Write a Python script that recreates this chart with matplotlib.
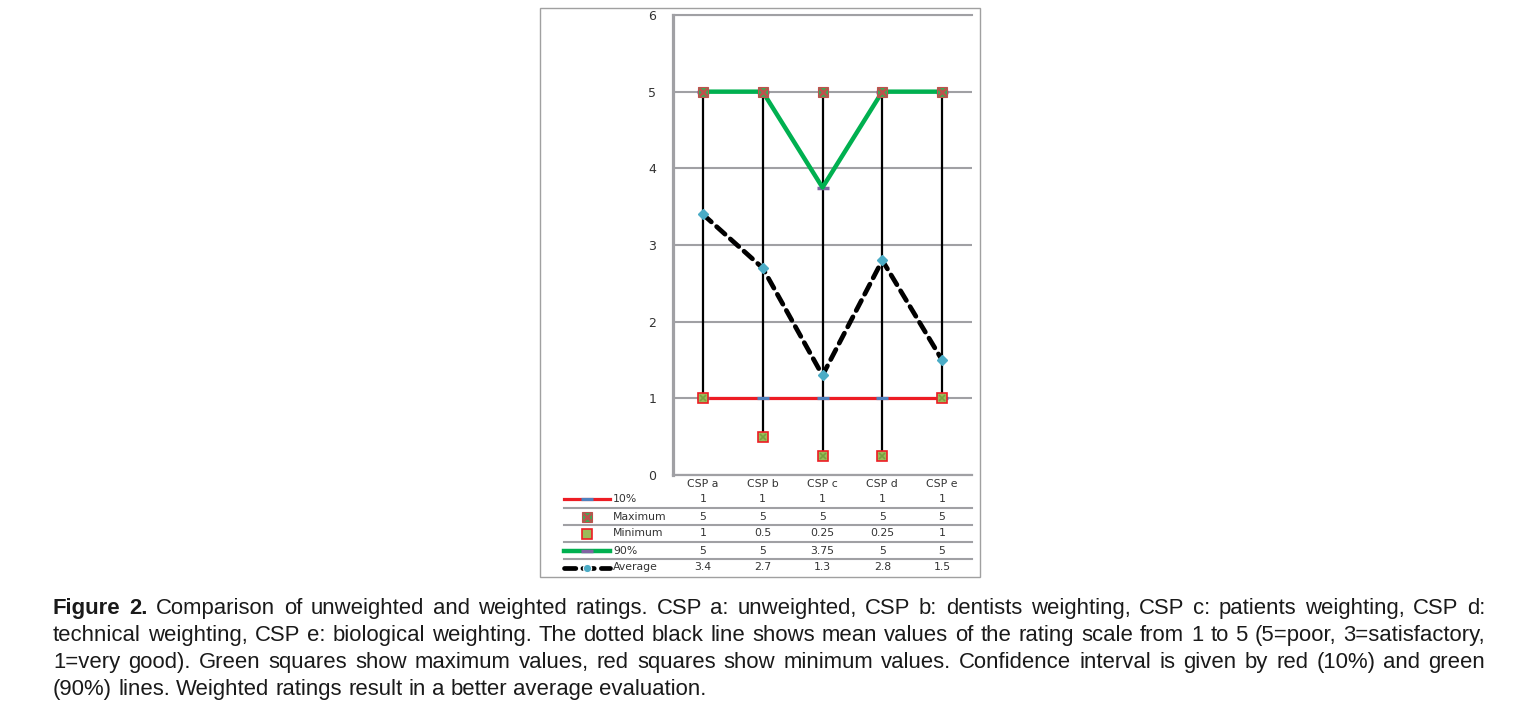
import matplotlib
matplotlib.use("Agg")
import matplotlib.pyplot as plt
from matplotlib.lines import Line2D
from matplotlib.patches import Rectangle
from matplotlib.transforms import blended_transform_factory

# ---------------- data ----------------
categories = ["CSP a", "CSP b", "CSP c", "CSP d", "CSP e"]
p10 = [1, 1, 1, 1, 1]
maximum = [5, 5, 5, 5, 5]
minimum = [1, 0.5, 0.25, 0.25, 1]
p90 = [5, 5, 3.75, 5, 5]
average = [3.4, 2.7, 1.3, 2.8, 1.5]
table_labels = ["10%", "Maximum", "Minimum", "90%", "Average"]
table_text = [["1", "1", "1", "1", "1"],
              ["5", "5", "5", "5", "5"],
              ["1", "0.5", "0.25", "0.25", "1"],
              ["5", "5", "3.75", "5", "5"],
              ["3.4", "2.7", "1.3", "2.8", "1.5"]]
yticks = [0, 1, 2, 3, 4, 5, 6]

caption_lines = [
    "Figure 2. Comparison of unweighted and weighted ratings. CSP a: unweighted, CSP b: dentists weighting, CSP c: patients weighting, CSP d:",
    "technical weighting, CSP e: biological weighting. The dotted black line shows mean values of the rating scale from 1 to 5 (5=poor, 3=satisfactory,",
    "1=very good). Green squares show maximum values, red squares show minimum values. Confidence interval is given by red (10%) and green",
    "(90%) lines. Weighted ratings result in a better average evaluation.",
]

# ---------------- colours ----------------
RED = "#ED1C24"
BLUE = "#4F81BD"
GREEN = "#00B050"
PURPLE = "#8064A2"
CYAN = "#4BACC6"
GRID = "#A0A0A4"
MAXG = "#3DAA55"
MAXR = "#C0504D"
MINFACE = "#9BBB59"
TXT = "#333333"

W, H = 1532, 717
fig = plt.figure(figsize=(W / 100, H / 100), dpi=100)
fig.patch.set_facecolor("white")


def fx(px):
    return px / W


def fy(py):
    return 1 - py / H


# outer chart box
fig.add_artist(Rectangle((fx(540), fy(577)), fx(980) - fx(540), fy(8) - fy(577),
                         transform=fig.transFigure, fill=False, edgecolor="#A0A0A0", lw=1.0))

ax = fig.add_axes([fx(673), fy(475), fx(972) - fx(673), fy(15) - fy(475)])
x = list(range(len(categories)))
ax.set_xlim(-0.5, len(categories) - 0.5)
ax.set_ylim(0, 6)
ax.set_yticks(yticks)
ax.set_yticklabels([str(v) for v in yticks])
ax.set_xticks(x)
ax.set_xticklabels(categories)
ax.tick_params(axis="both", length=0, labelcolor=TXT)
ax.tick_params(axis="y", pad=12, labelsize=9)
ax.tick_params(axis="x", pad=3, labelsize=7.8)
for s in ["top", "right"]:
    ax.spines[s].set_visible(False)
ax.spines["left"].set_color(GRID)
ax.spines["left"].set_linewidth(2.3)
ax.spines["bottom"].set_color(GRID)
ax.spines["bottom"].set_linewidth(1.6)
ax.yaxis.grid(True, color=GRID, lw=1.5, zorder=0)
ax.set_axisbelow(True)
ax.patch.set_alpha(0)
for v in yticks[-1:]:
    ax.axhline(v, color=GRID, lw=1.5, zorder=0, clip_on=False)

# high-low lines
ax.vlines(x, minimum, maximum, color="black", lw=1.6, zorder=2)
# 10% line
ax.plot(x, p10, color=RED, lw=2.3, zorder=3, solid_capstyle="butt")
ax.plot(x, p10, ls="none", marker="_", ms=8, mew=2.3, color=BLUE, zorder=3.1)
# 90% line
ax.plot(x, p90, color=GREEN, lw=3.2, zorder=3, solid_capstyle="butt")
ax.plot(x, p90, ls="none", marker="_", ms=9, mew=2.5, color=PURPLE, zorder=2.9)
# average
ax.plot(x, average, color="black", lw=3.4, ls=(0, (2.4, 1.5)), dash_capstyle="round", zorder=4)
ax.plot(x, average, ls="none", marker="D", ms=5.5, mfc=CYAN, mec=CYAN, zorder=4.1)
# maximum markers
ax.plot(x, maximum, ls="none", marker="s", ms=7, mfc=MAXG, mec=MAXR, mew=0.8, zorder=5)
ax.plot(x, maximum, ls="none", marker="x", ms=6, mew=1.8, color=MAXR, zorder=5.1)
# minimum markers
ax.plot(x, minimum, ls="none", marker="s", ms=7.5, mfc=MINFACE, mec=RED, mew=1.2, zorder=5)
ax.plot(x, minimum, ls="none", marker="x", ms=4.5, mew=1.2, color="#77A040", zorder=5.1)

# ---------------- data table ----------------
row_y = [499, 516.5, 533.5, 550.5, 567.5]
sep_y = [508, 525, 542, 559]
tfs = 7.8
for sy in sep_y:
    fig.add_artist(Line2D([fx(564), fx(972)], [fy(sy), fy(sy)], transform=fig.transFigure,
                          color=GRID, lw=1.5))
tr = blended_transform_factory(ax.transData, fig.transFigure)
for r, row in enumerate(table_text):
    for c, val in enumerate(row):
        fig.text(c, fy(row_y[r]), val, transform=tr, ha="center", va="center",
                 fontsize=tfs, color=TXT)
    fig.text(fx(613), fy(row_y[r]), table_labels[r], ha="left", va="center",
             fontsize=tfs, color=TXT)

ix0, ix1, icx = fx(564), fx(610), fx(587)
# 10% icon
fig.add_artist(Line2D([ix0, ix1], [fy(row_y[0])] * 2, transform=fig.transFigure, color=RED, lw=2.3))
fig.add_artist(Line2D([icx], [fy(row_y[0])], transform=fig.transFigure, marker="_", ms=8, mew=2.3,
                      color=BLUE))
# Maximum icon
fig.add_artist(Line2D([icx], [fy(row_y[1])], transform=fig.transFigure, marker="s", ms=7,
                      mfc=MAXG, mec=MAXR, mew=0.8, ls="none"))
fig.add_artist(Line2D([icx], [fy(row_y[1])], transform=fig.transFigure, marker="x", ms=6, mew=1.8,
                      color=MAXR, ls="none"))
# Minimum icon
fig.add_artist(Line2D([icx], [fy(row_y[2])], transform=fig.transFigure, marker="s", ms=7.5,
                      mfc=MINFACE, mec=RED, mew=1.2, ls="none"))
# 90% icon
fig.add_artist(Line2D([ix0, ix1], [fy(row_y[3])] * 2, transform=fig.transFigure, color=GREEN, lw=3.2))
fig.add_artist(Line2D([icx], [fy(row_y[3])], transform=fig.transFigure, marker="_", ms=9, mew=2.5,
                      color=PURPLE))
# Average icon
fig.add_artist(Line2D([ix0, ix1], [fy(row_y[4])] * 2, transform=fig.transFigure, color="black", lw=3.4,
                      ls=(0, (2.4, 1.5)), dash_capstyle="round"))
fig.add_artist(Line2D([icx], [fy(row_y[4])], transform=fig.transFigure, marker="o", ms=6,
                      mfc=CYAN, mec="white", mew=0.8))

# ---------------- caption (justified) ----------------
renderer = fig.canvas.get_renderer()
cap_left, cap_right = 53, 1485
cap_baseline = [614, 641, 668, 695]
cap_font = ["Liberation Sans", "DejaVu Sans"]


def word_width(word, bold, size):
    t = fig.text(0, 0, word, fontsize=size, family=cap_font,
                 fontweight="bold" if bold else "normal")
    w = t.get_window_extent(renderer).width
    t.remove()
    return w


# fit font size so that the widest full line nearly fills the caption width
base = 14.0
widest = max(word_width(l, False, base) for l in caption_lines[:-1])
cap_size = base * (cap_right - cap_left) / widest * 0.995

space_w = word_width("a a", False, cap_size) - 2 * word_width("a", False, cap_size)
for li, line in enumerate(caption_lines):
    words = line.split(" ")
    bold_flags = [li == 0 and wi < 2 for wi in range(len(words))]
    widths = [word_width(w, b, cap_size) for w, b in zip(words, bold_flags)]
    if li < len(caption_lines) - 1:
        gap = (cap_right - cap_left - sum(widths)) / (len(words) - 1)
    else:
        gap = space_w
    xpos = cap_left
    for w, b, ww in zip(words, bold_flags, widths):
        fig.text(fx(xpos), fy(cap_baseline[li]), w, fontsize=cap_size, family=cap_font,
                 fontweight="bold" if b else "normal", ha="left", va="baseline", color="#1a1a1a")
        xpos += ww + gap

fig.savefig("out.png", dpi=100)
